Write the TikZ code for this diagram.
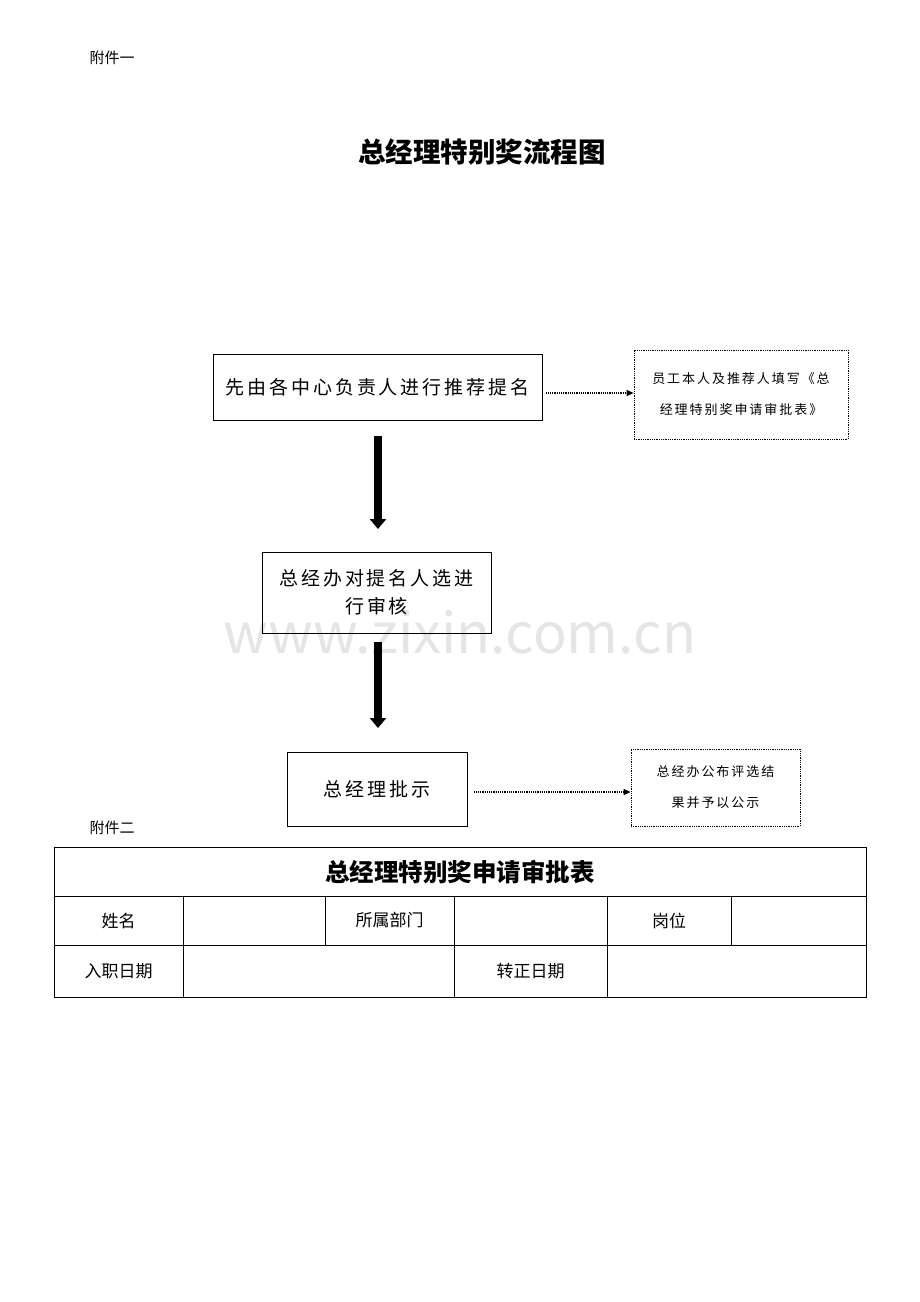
\documentclass[tikz,border=0pt]{standalone}
\usepackage{fontspec}
\setmainfont{Noto Sans CJK SC}
\usetikzlibrary{arrows.meta}
\begin{document}
\begin{tikzpicture}[x=1pt,y=-1pt]

  \tikzset{
    stepbox/.style={draw=black, line width=1pt, inner sep=2pt, align=center,
      font=\fontsize{19}{28}\selectfont},
    notebox/.style={draw=black, densely dotted, line width=0.8pt, align=center,
      font=\fontsize{13}{31}\selectfont},
    bigarrow/.style={line width=8pt, -{Triangle[length=10pt,width=16pt]}},
    dotarrow/.style={densely dotted, line width=1.2pt, -{Triangle[length=7pt,width=6pt]}},
    cell/.style={font=\fontsize{17}{20}\selectfont}
  }

  \useasboundingbox (0,0) rectangle (920,1302);

  \node[font=\fontsize{15}{18}\selectfont] (att1) at (112,58) {附件一};
  \node[font=\bfseries\fontsize{27.5}{32}\selectfont] (title) at (482,152) {总经理特别奖流程图};

  \node[text=black!10, font=\fontsize{56}{60}\selectfont] (wm) at (460,632) {www.zixin.com.cn};

  \node[stepbox, minimum width=329pt, minimum height=66pt] (nominate) at (377.5,387) {\addfontfeatures{LetterSpace=15}先由各中心负责人进行推荐提名};
  \node[notebox, minimum width=214pt, minimum height=89pt] (form) at (741,394.5) {\addfontfeatures{LetterSpace=15}员工本人及推荐人填写《总\\\addfontfeatures{LetterSpace=15}经理特别奖申请审批表》};
  \node[stepbox, minimum width=229pt, minimum height=81pt] (review) at (376.5,592.5) {\addfontfeatures{LetterSpace=15}总经办对提名人选进\\\addfontfeatures{LetterSpace=15}行审核};
  \node[stepbox, minimum width=180pt, minimum height=74pt] (approve) at (377,789) {\addfontfeatures{LetterSpace=15}总经理批示};
  \node[notebox, minimum width=169pt, minimum height=77pt] (publish) at (715.5,787.5) {\addfontfeatures{LetterSpace=15}总经办公布评选结\\\addfontfeatures{LetterSpace=15}果并予以公示};

  \coordinate (a1s) at (378,436);
  \coordinate (a1e) at (378,529);
  \coordinate (a2s) at (378,642);
  \coordinate (a2e) at (378,728);
  \draw[bigarrow] (a1s) -- (a1e);
  \draw[bigarrow] (a2s) -- (a2e);
  \draw[dotarrow] (nominate.east) ++(3,6) -- (form.west |- 0,393);
  \draw[dotarrow] (approve.east) ++(6,3) -- (publish.west |- 0,792);

  \node[font=\fontsize{15}{18}\selectfont] (att2) at (112,828) {附件二};

  % table
  \draw[line width=0.6pt] (54,847) rectangle (866,997);
  \draw[line width=0.6pt] (54,896) -- (866,896);
  \draw[line width=0.6pt] (54,945) -- (866,945);
  \foreach \x in {183,454,607} \draw[line width=0.6pt] (\x,896) -- (\x,997);
  \foreach \x in {325,731} \draw[line width=0.6pt] (\x,896) -- (\x,945);
  \node[font=\bfseries\fontsize{24.5}{28}\selectfont] (tabtitle) at (460,872) {总经理特别奖申请审批表};
  \node[cell] (name) at (118.5,920.5) {姓名};
  \node[cell] (dept) at (389.5,920.5) {所属部门};
  \node[cell] (post) at (669,920.5) {岗位};
  \node[cell] (entry) at (118.5,971) {入职日期};
  \node[cell] (regular) at (530.5,971) {转正日期};

\end{tikzpicture}
\end{document}
